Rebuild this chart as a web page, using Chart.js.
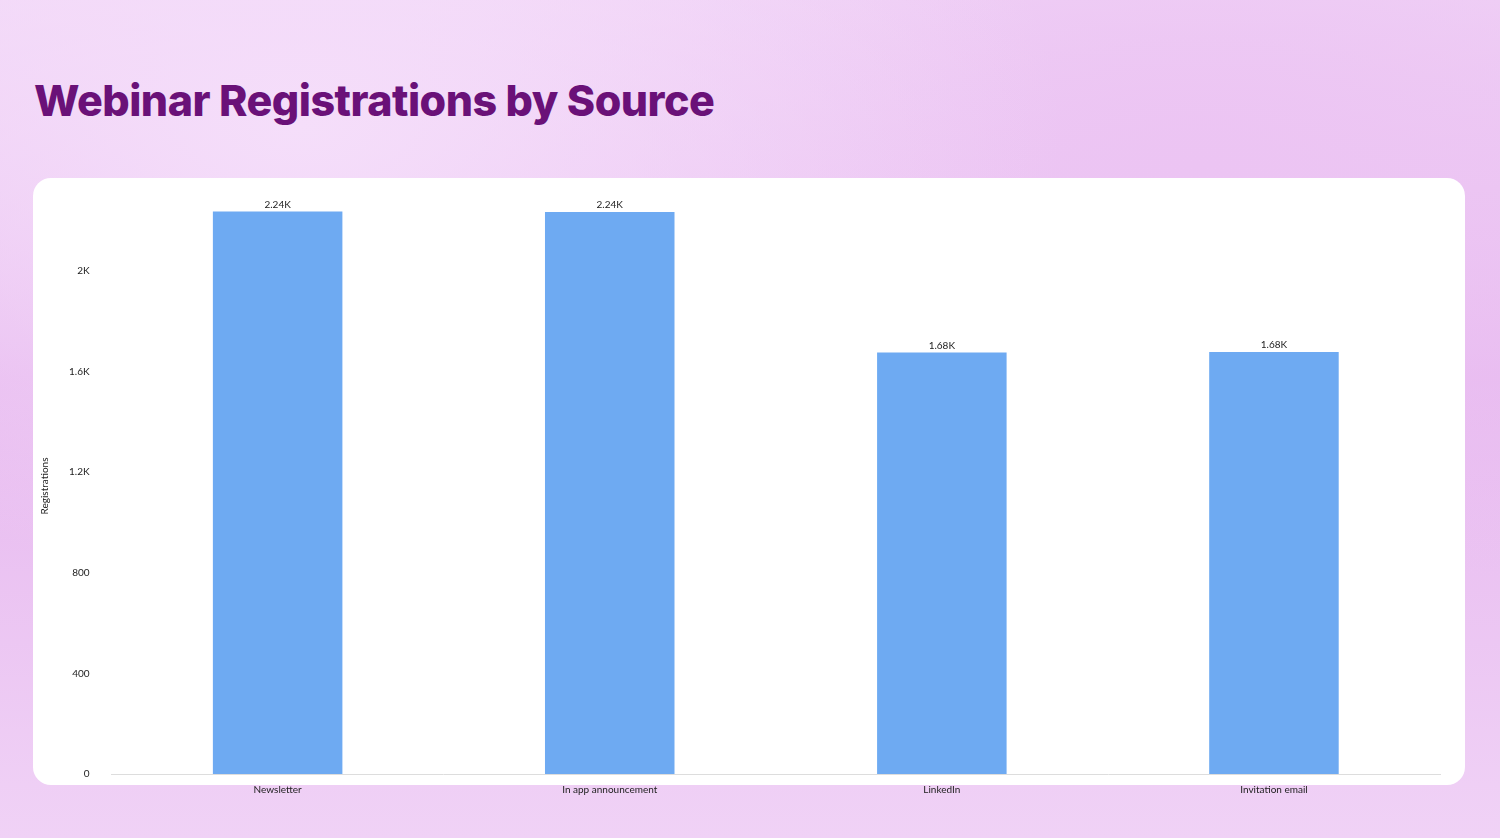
<!DOCTYPE html>
<html><head><meta charset="utf-8">
<script src="https://cdn.jsdelivr.net/npm/chart.js@4"></script>
<style>
html,body{margin:0;padding:0;width:1500px;height:838px;overflow:hidden;font-family:Lato,sans-serif}
body{background:radial-gradient(ellipse at 20% 15%,#f5defa 0%,transparent 45%),radial-gradient(ellipse at 80% 20%,#ecc4f3 0%,transparent 50%),linear-gradient(180deg,#f1d6f7 0%,#e7b8ef 45%,#f0d2f6 100%);}
h1{position:absolute;left:34px;top:74px;margin:0;font-family:Inter,"Open Sans",sans-serif;font-weight:800;font-size:43px;color:#6a1178;letter-spacing:-0.5px}
#card{position:absolute;left:33px;top:178px;width:1432px;height:607px;background:#fff;border-radius:18px}
#wrap{position:absolute;left:0;top:0;width:1432px;height:620px}
</style></head><body>
<h1>Webinar Registrations by Source</h1>
<div id="card"><div id="wrap"><canvas id="c"></canvas></div></div>
<script>
const categories=["Newsletter","In app announcement","LinkedIn","Invitation email"];
const registrations=[2236,2234,1676,1678];
const valueLabels=["2.24K","2.24K","1.68K","1.68K"];
const tickValues=[0,400,800,1200,1600,2000];
const tickText=["0","400","800","1.2K","1.6K","2K"];
const labelPlugin={id:"vl",afterDatasetsDraw(ch){const ctx=ch.ctx;const m=ch.getDatasetMeta(0);ctx.save();ctx.font="10px Lato";ctx.fillStyle="#222";ctx.textAlign="center";ctx.textBaseline="bottom";m.data.forEach((b,i)=>ctx.fillText(valueLabels[i],b.x,b.y-2));ctx.restore();}};
new Chart(document.getElementById("c"),{type:"bar",
data:{labels:categories,datasets:[{data:registrations,backgroundColor:"#6eaaf2",barPercentage:0.39,categoryPercentage:1}]},
options:{responsive:true,maintainAspectRatio:false,animation:false,
layout:{padding:{left:2,right:25,top:14,bottom:0}},
plugins:{legend:{display:false},tooltip:{enabled:false}},
scales:{
x:{grid:{display:false},border:{color:"#ddd"},ticks:{color:"#222",font:{family:"Lato",size:10},padding:2}},
y:{min:0,max:2290,grid:{display:false},border:{display:false},
afterBuildTicks:ax=>{ax.ticks=tickValues.map(v=>({value:v}));},
ticks:{autoSkip:false,color:"#222",font:{family:"Lato",size:10},padding:14,
callback:(v)=>{const i=tickValues.indexOf(v);return i>=0?tickText[i]:"";}},
title:{display:true,text:"Registrations",color:"#222",font:{family:"Lato",size:10}}}}},
plugins:[labelPlugin]});
</script></body></html>
